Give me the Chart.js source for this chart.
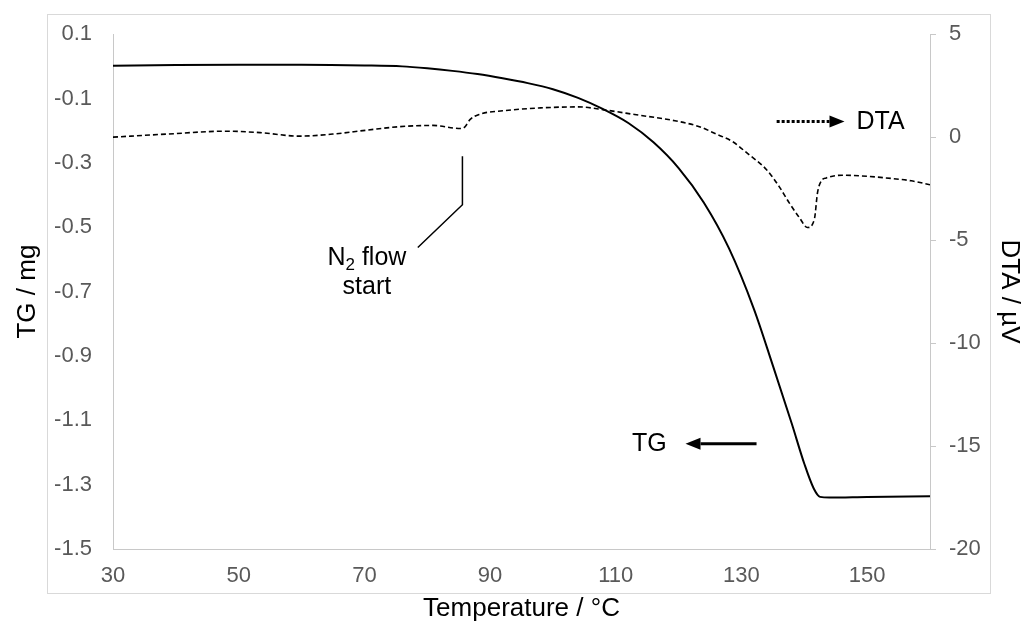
<!DOCTYPE html>
<html>
<head>
<meta charset="utf-8">
<script src="https://cdn.jsdelivr.net/npm/chart.js@4/dist/chart.umd.min.js"></script>
<style>
  html, body { margin: 0; padding: 0; background: #fff; }
</style>
</head>
<body>
<canvas id="chart" width="1029" height="628"></canvas>
<script>
// TG curve (left axis, mg)
const tgTemp = [30, 40, 50, 60, 70, 76, 80, 84, 88, 92, 96, 100, 104, 108, 112, 116, 120, 124, 128, 132, 135, 138, 140, 141.5, 142.5, 144, 150, 160];
const tgMass = [0.002, 0.004, 0.005, 0.005, 0.003, 0.0, -0.006, -0.014, -0.024, -0.037, -0.052, -0.071, -0.098, -0.133, -0.176, -0.236, -0.316, -0.423, -0.565, -0.755, -0.93, -1.11, -1.235, -1.312, -1.338, -1.34, -1.338, -1.336];

// DTA curve (right axis, µV)
const dtaTemp = [30, 38.6, 48, 53.4, 59.7, 65, 70.4, 75.6, 80.9, 85.3, 86, 86.8, 88.3, 92, 98, 104, 108.5, 113, 119, 123.3, 126, 128.6, 131, 134, 136, 137.6, 139.2, 140.5, 141.6, 142.1, 142.7, 143.5, 146, 150, 153, 157, 160];
const dtaSignal = [0.0, 0.15, 0.29, 0.22, 0.05, 0.15, 0.34, 0.51, 0.57, 0.42, 0.5, 0.85, 1.11, 1.28, 1.42, 1.47, 1.31, 1.1, 0.82, 0.51, 0.15, -0.22, -0.8, -1.58, -2.4, -3.19, -3.9, -4.39, -3.99, -2.7, -2.13, -1.98, -1.85, -1.9, -1.98, -2.12, -2.31];

// tick labels
const tempTicks = [30, 50, 70, 90, 110, 130, 150];
const tgTicks = [0.1, -0.1, -0.3, -0.5, -0.7, -0.9, -1.1, -1.3, -1.5];
const dtaTicks = [5, 0, -5, -10, -15, -20];

const FONT = '"Liberation Sans", Arial, Helvetica, sans-serif';
const tickColor = '#595959';
const axisColor = '#c8c8c8';

const toPoints = (xs, ys) => xs.map((x, i) => ({ x: x, y: ys[i] }));

// arrow helper
function arrow(ctx, x1, y1, x2, y2, dash) {
    const ang = Math.atan2(y2 - y1, x2 - x1);
    const head = 15;
    ctx.save();
    ctx.strokeStyle = '#000';
    ctx.fillStyle = '#000';
    ctx.lineWidth = 3;
    ctx.setLineDash(dash || []);
    ctx.beginPath();
    ctx.moveTo(x1, y1);
    ctx.lineTo(x2 - head * Math.cos(ang), y2 - head * Math.sin(ang));
    ctx.stroke();
    ctx.setLineDash([]);
    ctx.beginPath();
    ctx.moveTo(x2, y2);
    ctx.lineTo(x2 - head * Math.cos(ang) - 6 * Math.sin(ang), y2 - head * Math.sin(ang) + 6 * Math.cos(ang));
    ctx.lineTo(x2 - head * Math.cos(ang) + 6 * Math.sin(ang), y2 - head * Math.sin(ang) - 6 * Math.cos(ang));
    ctx.closePath();
    ctx.fill();
    ctx.restore();
}

const annotations = {
    id: 'annotations',
    beforeDraw(chart) {
        const ctx = chart.ctx;
        ctx.save();
        ctx.strokeStyle = '#d9d9d9';
        ctx.lineWidth = 1;
        ctx.strokeRect(47.5, 14.5, 943, 579);
        ctx.restore();
    },
    afterDatasetsDraw(chart) {
        const ctx = chart.ctx;
        const x = chart.scales.x, y = chart.scales.y, y1 = chart.scales.y1;
        ctx.save();
        ctx.fillStyle = '#000';
        ctx.font = '25px ' + FONT;
        ctx.textBaseline = 'middle';

        // DTA label, dotted arrow pointing right
        const dy = y1.getPixelForValue(0.76);
        arrow(ctx, x.getPixelForValue(135.6), dy, x.getPixelForValue(146.4), dy, [3, 2]);
        ctx.textAlign = 'left';
        ctx.fillText('DTA', x.getPixelForValue(148.3), dy + 1);

        // TG label, solid arrow pointing left
        const ty = y.getPixelForValue(-1.173);
        arrow(ctx, x.getPixelForValue(132.4), ty, x.getPixelForValue(121.1), ty);
        ctx.textAlign = 'right';
        ctx.fillText('TG', x.getPixelForValue(118.1), ty);

        // N2 flow start leader line
        ctx.strokeStyle = '#000';
        ctx.lineWidth = 1.5;
        ctx.beginPath();
        ctx.moveTo(x.getPixelForValue(85.6), y.getPixelForValue(-0.279));
        ctx.lineTo(x.getPixelForValue(85.6), y.getPixelForValue(-0.43));
        ctx.lineTo(x.getPixelForValue(78.5), y.getPixelForValue(-0.563));
        ctx.stroke();

        // N2 flow / start text
        const cx = x.getPixelForValue(70.4);
        ctx.textBaseline = 'alphabetic';
        ctx.textAlign = 'left';
        const big = '25px ' + FONT, small = '17px ' + FONT;
        ctx.font = big;
        const wN = ctx.measureText('N').width;
        const wFlow = ctx.measureText(' flow').width;
        ctx.font = small;
        const w2 = ctx.measureText('2').width;
        let sx = cx - (wN + w2 + wFlow) / 2;
        const b1 = y.getPixelForValue(-0.618);
        ctx.font = big;
        ctx.fillText('N', sx, b1);
        ctx.font = small;
        ctx.fillText('2', sx + wN, b1 + 5);
        ctx.font = big;
        ctx.fillText(' flow', sx + wN + w2, b1);
        ctx.textAlign = 'center';
        ctx.fillText('start', cx, y.getPixelForValue(-0.708));
        ctx.restore();
    }
};

new Chart(document.getElementById('chart').getContext('2d'), {
    type: 'line',
    data: {
        datasets: [
            {
                label: 'TG',
                data: toPoints(tgTemp, tgMass),
                yAxisID: 'y',
                borderColor: '#000',
                borderWidth: 2,
                pointRadius: 0,
                fill: false,
                cubicInterpolationMode: 'monotone'
            },
            {
                label: 'DTA',
                data: toPoints(dtaTemp, dtaSignal),
                yAxisID: 'y1',
                borderColor: '#000',
                borderWidth: 1.6,
                borderDash: [5, 3],
                pointRadius: 0,
                fill: false,
                cubicInterpolationMode: 'monotone'
            }
        ]
    },
    options: {
        responsive: false,
        devicePixelRatio: 1,
        animation: false,
        layout: { padding: { top: 26, left: 0, right: 0, bottom: 0 } },
        plugins: {
            legend: { display: false },
            tooltip: { enabled: false }
        },
        scales: {
            x: {
                type: 'linear',
                position: 'bottom',
                min: 30,
                max: 160,
                afterBuildTicks: s => { s.ticks = tempTicks.map(v => ({ value: v })); },
                afterFit: s => { s.height = 79; },
                grid: { display: false, drawTicks: false },
                border: { display: true, color: axisColor, width: 1 },
                ticks: { color: tickColor, font: { family: FONT, size: 22 }, padding: 14, maxRotation: 0, autoSkip: false },
                title: { display: true, text: 'Temperature / °C', color: '#000', font: { family: FONT, size: 26 }, padding: { top: 0, bottom: 4 } }
            },
            y: {
                type: 'linear',
                position: 'left',
                min: -1.5,
                max: 0.1,
                afterBuildTicks: s => { s.ticks = tgTicks.map(v => ({ value: v })); },
                afterFit: s => { s.width = 113; },
                grid: { display: false, drawTicks: false },
                border: { display: true, color: axisColor, width: 1 },
                ticks: { color: tickColor, font: { family: FONT, size: 22 }, padding: 21, callback: v => v.toFixed(1) },
                title: { display: true, text: 'TG / mg', color: '#000', font: { family: FONT, size: 26 }, padding: { top: 12, bottom: 0 } }
            },
            y1: {
                type: 'linear',
                position: 'right',
                min: -20,
                max: 5,
                afterBuildTicks: s => { s.ticks = dtaTicks.map(v => ({ value: v })); },
                afterFit: s => { s.width = 99; },
                grid: { display: true, drawOnChartArea: false, drawTicks: true, tickLength: 6, color: axisColor },
                border: { display: true, color: axisColor, width: 1 },
                ticks: { color: tickColor, font: { family: FONT, size: 22 }, padding: 13 },
                title: { display: true, text: 'DTA / µV', color: '#000', font: { family: FONT, size: 26 }, padding: { top: 4, bottom: 0 } }
            }
        }
    },
    plugins: [annotations]
});
</script>
</body>
</html>
